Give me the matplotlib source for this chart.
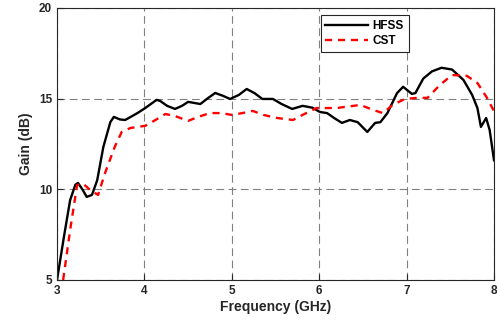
import numpy as np
import matplotlib
matplotlib.use("Agg")
import matplotlib.pyplot as plt

plt.rcParams['font.family'] = ['Liberation Sans', 'DejaVu Sans']
plt.rcParams['font.weight'] = 'bold'

# HFSS simulated gain
hfss_f = [3.00, 3.08, 3.15, 3.21, 3.24, 3.29, 3.34, 3.40, 3.46, 3.53, 3.61, 3.65, 3.72, 3.78,
          3.92, 4.01, 4.14, 4.18, 4.26, 4.35, 4.43, 4.50, 4.64, 4.72, 4.81, 4.90, 4.98, 5.08,
          5.17, 5.26, 5.35, 5.47, 5.57, 5.69, 5.81, 5.92, 6.01, 6.09, 6.18, 6.26, 6.35, 6.44,
          6.55, 6.64, 6.70, 6.78, 6.89, 6.96, 7.06, 7.10, 7.19, 7.29, 7.40, 7.52, 7.65, 7.75,
          7.81, 7.85, 7.91, 7.95, 8.00]
hfss_g = [5.0, 7.4, 9.4, 10.25, 10.35, 10.0, 9.58, 9.69, 10.5, 12.33, 13.7, 13.99, 13.85, 13.82,
          14.2, 14.48, 14.93, 14.87, 14.6, 14.43, 14.6, 14.82, 14.7, 15.0, 15.31, 15.15, 14.98, 15.2,
          15.53, 15.3, 14.98, 14.98, 14.7, 14.43, 14.6, 14.5, 14.26, 14.2, 13.9, 13.66, 13.82, 13.7,
          13.16, 13.66, 13.7, 14.2, 15.3, 15.65, 15.26, 15.3, 16.1, 16.5, 16.7, 16.6, 16.03, 15.2,
          14.48, 13.44, 13.93, 13.27, 11.6]

# CST simulated gain
cst_f = [3.07, 3.15, 3.23, 3.30, 3.38, 3.47, 3.55, 3.66, 3.74, 3.84, 4.01, 4.12, 4.24, 4.35,
         4.50, 4.62, 4.75, 4.88, 5.00, 5.12, 5.24, 5.36, 5.52, 5.70, 5.81, 5.97, 6.20, 6.47,
         6.62, 6.73, 6.84, 6.98, 7.12, 7.24, 7.38, 7.52, 7.69, 7.81, 7.92, 8.00]
cst_g = [5.0, 7.75, 10.24, 10.3, 9.96, 9.69, 10.9, 12.33, 13.16, 13.38, 13.5, 13.8, 14.15, 14.04,
         13.77, 14.0, 14.2, 14.2, 14.1, 14.2, 14.32, 14.1, 13.93, 13.82, 14.1, 14.48, 14.48, 14.65,
         14.37, 14.2, 14.65, 14.98, 15.04, 15.04, 15.75, 16.3, 16.25, 15.86, 15.04, 14.3]

fig = plt.figure(figsize=(4.97, 3.29), dpi=100)
ax = fig.add_axes([0.1147, 0.149, 0.8793, 0.827])

ax.plot(hfss_f, hfss_g, color='black', lw=1.7, label='HFSS')
ax.plot(cst_f, cst_g, color='red', lw=1.7, ls=(0, (3, 2.5)), label='CST')

ax.set_xlim(3, 8)
ax.set_ylim(5, 20)
ax.set_xticks([3, 4, 5, 6, 7, 8])
ax.set_yticks([5, 10, 15, 20])
ax.grid(True, color='#808080', ls=(0, (7, 4)), lw=0.8)
ax.tick_params(direction='in', length=4, labelsize=8.5, colors='#262626', width=0.8)
for s in ax.spines.values():
    s.set_color('#262626')
    s.set_linewidth(0.8)

ax.set_xlabel('Frequency (GHz)', fontsize=10, fontweight='bold', color='#262626', labelpad=2)
ax.set_ylabel('Gain (dB)', fontsize=10, fontweight='bold', color='#262626', labelpad=4)

leg = ax.legend(loc='upper left', bbox_to_anchor=(0.59, 0.995), fontsize=8.5, fancybox=False,
                framealpha=1, edgecolor='#262626', handlelength=3.6, borderpad=0.4,
                labelspacing=0.25, handletextpad=0.4)
leg.get_frame().set_linewidth(0.8)

fig.savefig('out.png', dpi=100)
